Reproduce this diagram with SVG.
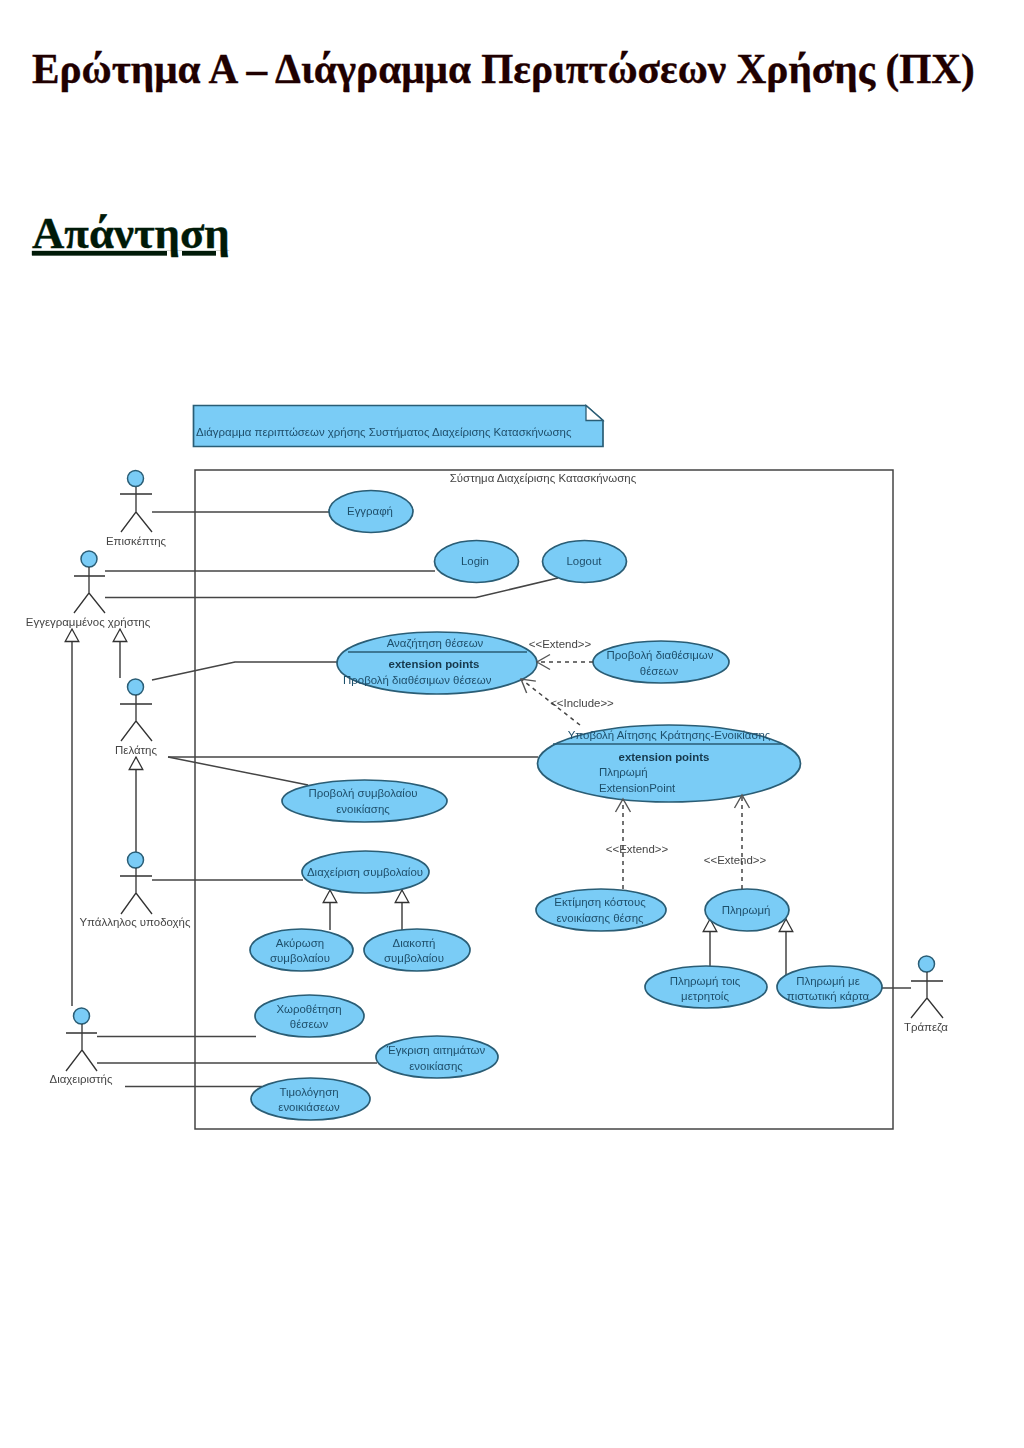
<svg xmlns="http://www.w3.org/2000/svg" width="1024" height="1448" viewBox="0 0 1024 1448">
<style>
.h1{font-family:"Liberation Serif","Times New Roman",serif;font-weight:bold;stroke-width:.35}
text.t{font-family:"Liberation Sans",Arial,sans-serif;font-size:11.45px;text-anchor:middle;fill:#1f4f6b}
text.l{text-anchor:start}
text.b{font-weight:bold;fill:#16384c}
text.a{fill:#444}
.u{fill:#7accf6;stroke:#2a5d75;stroke-width:1.7}
.d{fill:none;stroke:#2a5d75;stroke-width:1.4}
.c{fill:none;stroke:#444;stroke-width:1.5}
.g{marker-end:url(#gen)}
.x{stroke-dasharray:4 4;marker-end:url(#open)}
.s{fill:none;stroke:#333;stroke-width:1.3}
.head{fill:#7accf6;stroke:#2a5d75;stroke-width:1.5}
</style>
<defs>
<marker id="gen" markerUnits="userSpaceOnUse" markerWidth="16" markerHeight="16" viewBox="0 0 16 16" refX="14" refY="8" orient="auto"><path d="M1.500 1.200L14 8L1.500 14.800Z" fill="#fff" stroke="#333" stroke-width="1.300"/></marker>
<marker id="open" markerUnits="userSpaceOnUse" markerWidth="18" markerHeight="18" viewBox="0 0 18 18" refX="16" refY="9" orient="auto"><path d="M3 1.500L16 9L3 16.500" fill="none" stroke="#555" stroke-width="1.400"/></marker>
<filter id="soft" filterUnits="userSpaceOnUse" x="0" y="380" width="1024" height="780"><feGaussianBlur stdDeviation="0.35"/></filter>
</defs>
<rect width="1024" height="1448" fill="#fff"/>
<text class="h1" x="32" y="83" font-size="41.260" fill="#1f0000" stroke="#1f0000">Ερώτημα Α – Διάγραμμα Περιπτώσεων Χρήσης (ΠΧ)</text>
<text class="h1" x="32" y="248" font-size="44.800" fill="#001a08" stroke="#001a08" text-decoration="underline">Απάντηση</text>
<g filter="url(#soft)">
<g id="note"><path class="u" d="M193.500 405.500H586L603 420.500V446.500H193.500Z"/><path d="M586 405.500L603 420.500H586Z" fill="#fff" stroke="#2a5d75" stroke-width="1.300"/><text class="t l" x="196" y="436">Διάγραμμα περιπτώσεων χρήσης Συστήματος Διαχείρισης Κατασκήνωσης</text></g>
<g id="system"><rect x="195" y="470" width="698" height="659" fill="none" stroke="#444" stroke-width="1.500"/><text class="t a" x="543" y="482">Σύστημα Διαχείρισης Κατασκήνωσης</text></g>
<g id="connectors">
<path class="c" d="M152 512H330"/>
<path class="c" d="M105 571H435"/>
<path class="c" d="M105 597.500H476L558 578"/>
<path class="c" d="M152 680L235 662H337"/>
<path class="c" d="M168 757H538"/>
<path class="c" d="M168 757L308 785"/>
<path class="c" d="M152 880H303"/>
<path class="c" d="M97 1036.500H256"/>
<path class="c" d="M97 1063H377"/>
<path class="c" d="M125 1086.500H262"/>
<path class="c" d="M882 988H911"/>
<path class="c g" d="M72 1006V629"/>
<path class="c g" d="M120 678V629"/>
<path class="c g" d="M136 852V757"/>
<path class="c g" d="M330 930V890"/>
<path class="c g" d="M402 930V890"/>
<path class="c g" d="M710 967V919"/>
<path class="c g" d="M786 975V919"/>
</g>
<g id="uc-eggrafi"><ellipse class="u" cx="371" cy="511.500" rx="42" ry="21"/><text class="t" x="370" y="515">Εγγραφή</text></g>
<g id="uc-login"><ellipse class="u" cx="476.500" cy="561.500" rx="42" ry="21"/><text class="t" x="475" y="565">Login</text></g>
<g id="uc-logout"><ellipse class="u" cx="584.500" cy="561.500" rx="42" ry="21"/><text class="t" x="584" y="565">Logout</text></g>
<g id="uc-anazitisi"><ellipse class="u" cx="437" cy="663" rx="100" ry="31"/><path class="d" d="M348 652H527"/><text class="t" x="435" y="647">Αναζήτηση θέσεων</text><text class="t b" x="434" y="668">extension points</text><text class="t l" x="343" y="684">Προβολή διαθέσιμων θέσεων</text></g>
<g id="uc-provoli-theseon"><ellipse class="u" cx="661" cy="662" rx="68" ry="21"/><text class="t" x="660" y="659">Προβολή διαθέσιμων</text><text class="t" x="659" y="675">θέσεων</text></g>
<g id="uc-ypovoli"><ellipse class="u" cx="669" cy="763.500" rx="131.500" ry="38.500"/><path class="d" d="M553 744H783"/><text class="t" x="669" y="739">Υποβολή Αίτησης Κράτησης-Ενοικίασης</text><text class="t b" x="664" y="761">extension points</text><text class="t l" x="599" y="776">Πληρωμή</text><text class="t l" x="599" y="792">ExtensionPoint</text></g>
<g id="uc-symvolaio"><ellipse class="u" cx="364.500" cy="801" rx="82.500" ry="21"/><text class="t" x="363" y="797">Προβολή συμβολαίου</text><text class="t" x="363" y="813">ενοικίασης</text></g>
<g id="uc-diaxeirisi"><ellipse class="u" cx="365.500" cy="872" rx="63.500" ry="21"/><text class="t" x="365" y="876">Διαχείριση συμβολαίου</text></g>
<g id="uc-akyrosi"><ellipse class="u" cx="301.500" cy="950" rx="51.500" ry="21"/><text class="t" x="300" y="947">Ακύρωση</text><text class="t" x="300" y="962">συμβολαίου</text></g>
<g id="uc-diakopi"><ellipse class="u" cx="417" cy="950" rx="53" ry="21"/><text class="t" x="414" y="947">Διακοπή</text><text class="t" x="414" y="962">συμβολαίου</text></g>
<g id="uc-xorothetisi"><ellipse class="u" cx="309.500" cy="1016" rx="54.500" ry="21"/><text class="t" x="309" y="1013">Χωροθέτηση</text><text class="t" x="309" y="1028">θέσεων</text></g>
<g id="uc-egkrisi"><ellipse class="u" cx="437" cy="1057" rx="61" ry="21"/><text class="t" x="436" y="1054">Έγκριση αιτημάτων</text><text class="t" x="436" y="1070">ενοικίασης</text></g>
<g id="uc-timologisi"><ellipse class="u" cx="310.500" cy="1099" rx="59.500" ry="21"/><text class="t" x="309" y="1096">Τιμολόγηση</text><text class="t" x="309" y="1111">ενοικιάσεων</text></g>
<g id="uc-ektimisi"><ellipse class="u" cx="601" cy="910" rx="65" ry="21"/><text class="t" x="600" y="906">Εκτίμηση κόστους</text><text class="t" x="600" y="922">ενοικίασης θέσης</text></g>
<g id="uc-pliromi"><ellipse class="u" cx="747" cy="910" rx="42" ry="21"/><text class="t" x="746" y="914">Πληρωμή</text></g>
<g id="uc-metritois"><ellipse class="u" cx="706" cy="987" rx="61" ry="21"/><text class="t" x="705" y="985">Πληρωμή τοις</text><text class="t" x="705" y="1000">μετρητοίς</text></g>
<g id="uc-karta"><ellipse class="u" cx="829.500" cy="987" rx="52.500" ry="21"/><text class="t" x="828" y="985">Πληρωμή με</text><text class="t" x="828" y="1000">πιστωτική κάρτα</text></g>
<g id="connectors-dashed">
<path class="c x" d="M593 662H537"/>
<path class="c x" d="M580 725L521 679"/>
<path class="c x" d="M623 889V799"/>
<path class="c x" d="M742 889V795"/>
</g>
<g id="labels"><text class="t a" x="560" y="648">&lt;&lt;Extend&gt;&gt;</text><text class="t a" x="582" y="707">&lt;&lt;Include&gt;&gt;</text><text class="t a" x="637" y="853">&lt;&lt;Extend&gt;&gt;</text><text class="t a" x="735" y="864">&lt;&lt;Extend&gt;&gt;</text></g>
<g id="actor-episkeptis"><circle class="head" cx="135.500" cy="478.500" r="8"/><path class="s" d="M120 494H152M136 487V512L121 532M136 512L152 532"/><text class="t a" x="136" y="545">Επισκέπτης</text></g>
<g id="actor-eggegrammenos"><circle class="head" cx="89" cy="559" r="8"/><path class="s" d="M74 576H105M89 567V593L74 613M89 593L105 613"/><text class="t a" x="88" y="626">Εγγεγραμμένος χρήστης</text></g>
<g id="actor-pelatis"><circle class="head" cx="135.500" cy="687" r="8"/><path class="s" d="M120 704H152M136 695V721L121 741M136 721L152 741"/><text class="t a" x="136" y="754">Πελάτης</text></g>
<g id="actor-ypallilos"><circle class="head" cx="135.500" cy="860" r="8"/><path class="s" d="M120 876H152M136 868V893L121 914M136 893L152 914"/><text class="t a" x="135" y="926">Υπάλληλος υποδοχής</text></g>
<g id="actor-diaxeiristis"><circle class="head" cx="81.500" cy="1016" r="8"/><path class="s" d="M66 1033H97M82 1024V1050L66 1071M82 1050L97 1071"/><text class="t a" x="81" y="1083">Διαχειριστής</text></g>
<g id="actor-trapeza"><circle class="head" cx="926.500" cy="964" r="8"/><path class="s" d="M911 981H943M927 972V998L911 1018M927 998L943 1018"/><text class="t a" x="926" y="1031">Τράπεζα</text></g>
</g>
</svg>
